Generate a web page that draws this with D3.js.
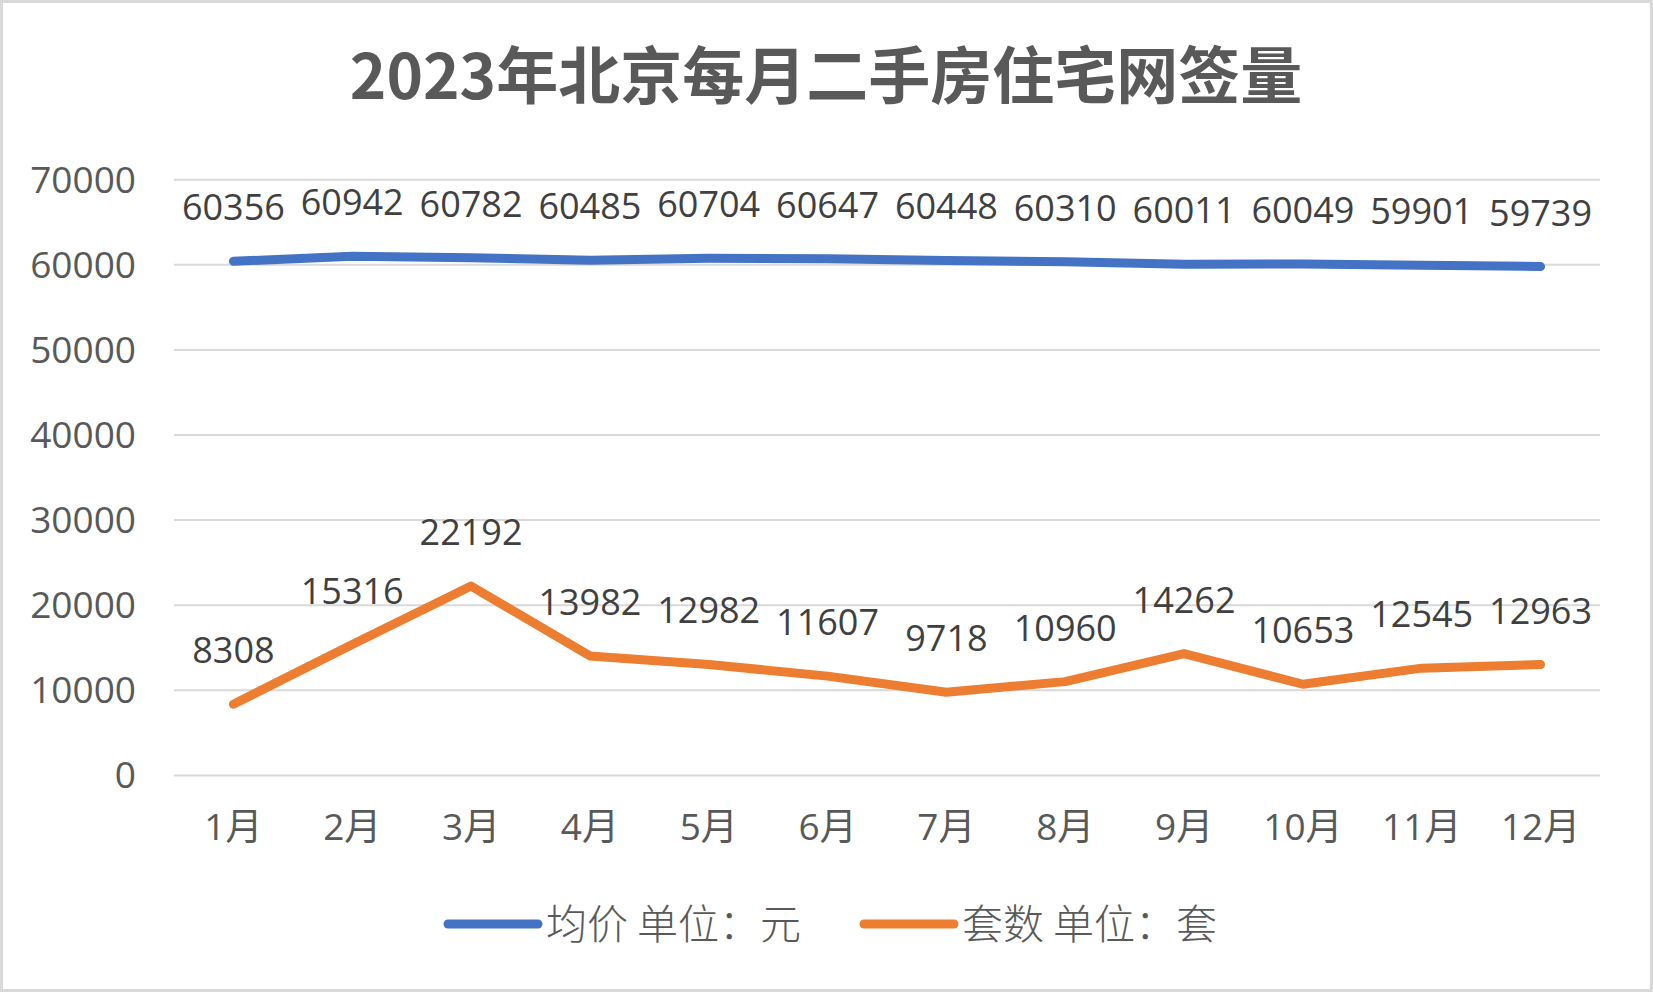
<!DOCTYPE html>
<html><head><meta charset="utf-8">
<script src="https://cdn.jsdelivr.net/npm/d3@7/dist/d3.min.js"></script>
<style>html,body{margin:0;padding:0;background:#fff;}svg{display:block;}</style>
</head><body>
<svg id="chart" width="1653" height="993"></svg>
<script>
const months = ["1月","2月","3月","4月","5月","6月","7月","8月","9月","10月","11月","12月"];
const avgPrice = [60356,60942,60782,60485,60704,60647,60448,60310,60011,60049,59901,59739];
const dealCount = [8308,15316,22192,13982,12982,11607,9718,10960,14262,10653,12545,12963];
const yTicks = [0,10000,20000,30000,40000,50000,60000,70000];
const seriesNames = ["均价 单位：元","套数 单位：套"];
const seriesColors = ["#4472C4","#ED7D31"];
const chartTitle = "2023年北京每月二手房住宅网签量";

const W = 1653, H = 993;
const svg = d3.select("#chart");
svg.append("rect").attr("x",1.5).attr("y",1.5).attr("width",W-3).attr("height",H-4)
  .attr("fill","#fff").attr("stroke","#d9d9d9").attr("stroke-width",3);

const plotL = 174, plotR = 1600, plotT = 179.2, plotB = 774.9;
const x = d3.scaleBand().domain(months).range([plotL,plotR]);
const y = d3.scaleLinear().domain([0,70000]).range([plotB,plotT]);

svg.append("text").attr("x",826).attr("y",99).attr("text-anchor","middle")
  .attr("font-family","'Noto Sans CJK SC', sans-serif").attr("font-weight","bold")
  .attr("font-size",62).attr("fill","#595959").text(chartTitle);

// grid
const yAxis = d3.axisLeft(y).tickValues(yTicks).tickSize(-(plotR-plotL)).tickPadding(38).tickFormat(d3.format("d"));
const gy = svg.append("g").attr("transform",`translate(${plotL},0)`).call(yAxis);
gy.select(".domain").remove();
gy.selectAll(".tick line").attr("stroke","#d9d9d9").attr("stroke-width",2);
gy.selectAll(".tick text").attr("font-family","'Open Sans', sans-serif").attr("font-size",37)
  .attr("fill","#595959").attr("dy","0.35em");

const xAxis = d3.axisBottom(x).tickSize(0).tickPadding(39);
const gx = svg.append("g").attr("transform",`translate(0,${plotB})`).call(xAxis);
gx.select(".domain").remove();
gx.selectAll(".tick text").attr("font-family","'Open Sans','Noto Sans CJK SC', sans-serif").attr("font-size",37)
  .attr("fill","#595959").attr("dy","0.71em");

const series = [avgPrice, dealCount];
const line = d3.line().x((d,i)=>x(months[i])+x.bandwidth()/2).y(d=>y(d));
series.forEach((vals,k)=>{
  svg.append("path").datum(vals).attr("d",line).attr("fill","none")
    .attr("stroke",seriesColors[k]).attr("stroke-width",9)
    .attr("stroke-linecap","round").attr("stroke-linejoin","round");
  svg.append("g").selectAll("text").data(vals).join("text")
    .attr("x",(d,i)=>x(months[i])+x.bandwidth()/2)
    .attr("y",d=>y(d)-41)
    .attr("text-anchor","middle")
    .attr("font-family","'Open Sans', sans-serif").attr("font-size",36)
    .attr("fill","#404040").text(d=>d);
});

// legend
const legendX = [448, 864];
seriesNames.forEach((name,k)=>{
  const g = svg.append("g").attr("transform",`translate(${legendX[k]},924)`);
  g.append("line").attr("x1",0).attr("x2",90).attr("y1",0).attr("y2",0)
    .attr("stroke",seriesColors[k]).attr("stroke-width",9).attr("stroke-linecap","round");
  g.append("text").attr("x",98).attr("y",0).attr("dy","0.36em")
    .attr("font-family","'Noto Sans CJK SC', sans-serif").attr("font-weight",300).attr("font-size",41)
    .attr("fill","#595959").text(name);
});
</script>
</body></html>
